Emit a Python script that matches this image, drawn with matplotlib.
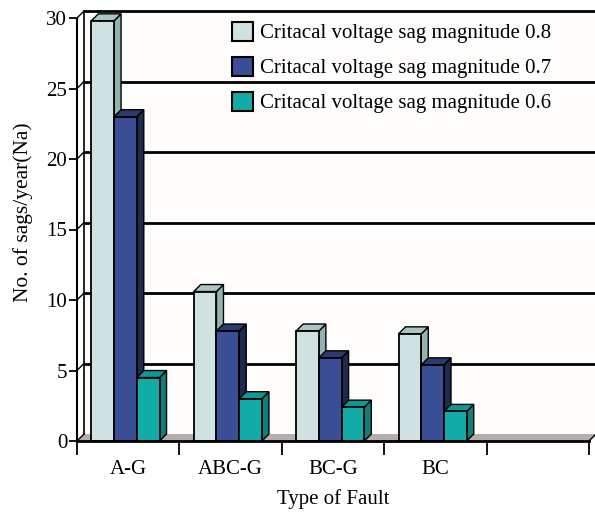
import matplotlib
matplotlib.use("Agg")
import matplotlib.pyplot as plt
from matplotlib.patches import Polygon, Rectangle, Patch

plt.rcParams['font.family'] = ['Liberation Serif', 'DejaVu Serif']

faults = ['A-G', 'ABC-G', 'BC-G', 'BC']
series_names = ['Critacal voltage sag magnitude 0.8',
                'Critacal voltage sag magnitude 0.7',
                'Critacal voltage sag magnitude 0.6']
sag_08 = [29.8, 10.6, 7.8, 7.6]
sag_07 = [23.0, 7.8, 5.9, 5.4]
sag_06 = [4.5, 3.0, 2.4, 2.1]
y_ticks = [0, 5, 10, 15, 20, 25, 30]

# front / side / top colours for each series
front_cols = ['#cfe2e1', '#3a4e96', '#12aba7']
side_cols = ['#93b3b0', '#1f2b4c', '#0b807c']
top_cols = ['#aac6c4', '#2c3a6c', '#0e9793']

W, H = 595, 513
fig = plt.figure(figsize=(W / 100, H / 100), dpi=100)
fig.patch.set_facecolor('white')
ax = fig.add_axes([77 / W, 72 / H, 512 / W, 423 / H])
ax.set_xlim(0, 5)
ax.set_ylim(0, 30)
ax.set_facecolor('none')

# depth of the pseudo-3d look, in data units
dx = 7 / 102.4
dy = 7 / 14.1
n_slots = 5

# back wall
wall = Polygon([(dx, dy), (n_slots + dx, dy), (n_slots + dx, 30 + dy), (dx, 30 + dy)],
               closed=True, facecolor='#fffdfb', edgecolor='none', zorder=0, clip_on=False)
ax.add_patch(wall)
# grey floor
floor = Polygon([(0, 0), (n_slots, 0), (n_slots + dx, dy), (dx, dy)], closed=True,
                facecolor='#b3aeab', edgecolor='none', zorder=1, clip_on=False)
ax.add_patch(floor)

# gridlines on the back wall plus left wall connectors
for t in y_ticks[1:]:
    ax.plot([dx, n_slots + dx], [t + dy, t + dy], color='black', lw=2.0,
            zorder=1.5, clip_on=False, solid_capstyle='butt')
for t in y_ticks:
    ax.plot([0, dx], [t, t + dy], color='black', lw=1.0, zorder=1.5, clip_on=False)
ax.plot([dx, dx], [dy, 30 + dy], color='black', lw=1.2, zorder=1.5, clip_on=False)
ax.plot([n_slots + dx, n_slots + dx], [dy, 30 + dy], color='black', lw=1.2,
        zorder=1.5, clip_on=False)
ax.plot([n_slots, n_slots + dx], [0, dy], color='black', lw=1.0, zorder=1.5, clip_on=False)

# bars
bw = 0.222
start = 0.14
series = [sag_08, sag_07, sag_06]
z = 2
for i in range(len(faults)):
    for s, vals in enumerate(series):
        x0 = i + start + s * bw
        h = vals[i]
        side = Polygon([(x0 + bw, 0), (x0 + bw + dx, dy), (x0 + bw + dx, h + dy), (x0 + bw, h)],
                       closed=True, facecolor=side_cols[s], edgecolor='black', lw=1.0,
                       zorder=z, clip_on=False)
        top = Polygon([(x0, h), (x0 + dx, h + dy), (x0 + bw + dx, h + dy), (x0 + bw, h)],
                      closed=True, facecolor=top_cols[s], edgecolor='black', lw=1.0,
                      zorder=z, clip_on=False)
        front = Rectangle((x0, 0), bw, h, facecolor=front_cols[s], edgecolor='black',
                          lw=1.3, zorder=z + 0.5, clip_on=False)
        ax.add_patch(side)
        ax.add_patch(top)
        ax.add_patch(front)
        z += 1

# axes, ticks, labels
for name in ['top', 'right']:
    ax.spines[name].set_visible(False)
ax.spines['left'].set_linewidth(1.5)
ax.spines['bottom'].set_linewidth(2.0)
ax.spines['left'].set_zorder(50)
ax.spines['bottom'].set_zorder(50)

ax.set_yticks(y_ticks)
ax.set_yticklabels([str(t) for t in y_ticks], fontsize=15)
ax.tick_params(axis='y', direction='out', length=6, width=1.3, pad=1)

ax.set_xticks(range(n_slots + 1))
ax.set_xticklabels([])
ax.tick_params(axis='x', which='major', direction='out', length=10, width=1.3)
ax.set_xticks([i + 0.5 for i in range(len(faults))], minor=True)
ax.set_xticklabels(faults, minor=True, fontsize=15)
ax.tick_params(axis='x', which='minor', length=0, pad=14)

ax.set_xlabel('Type of Fault', fontsize=15, labelpad=7)
ax.set_ylabel('No. of sags/year(Na)', fontsize=15.5)
ax.yaxis.set_label_coords(-44 / 512, 0.54)

handles = [Patch(facecolor=front_cols[s], edgecolor='black', lw=1.5) for s in range(3)]
fig.legend(handles, series_names, loc='upper left',
           bbox_to_anchor=(232 / W, 1 - 22 / H), bbox_transform=fig.transFigure,
           frameon=False, fontsize=15, handlelength=1.0, handleheight=1.0,
           handletextpad=0.35, labelspacing=0.65, borderpad=0, borderaxespad=0)

fig.savefig('out.png', dpi=100)
